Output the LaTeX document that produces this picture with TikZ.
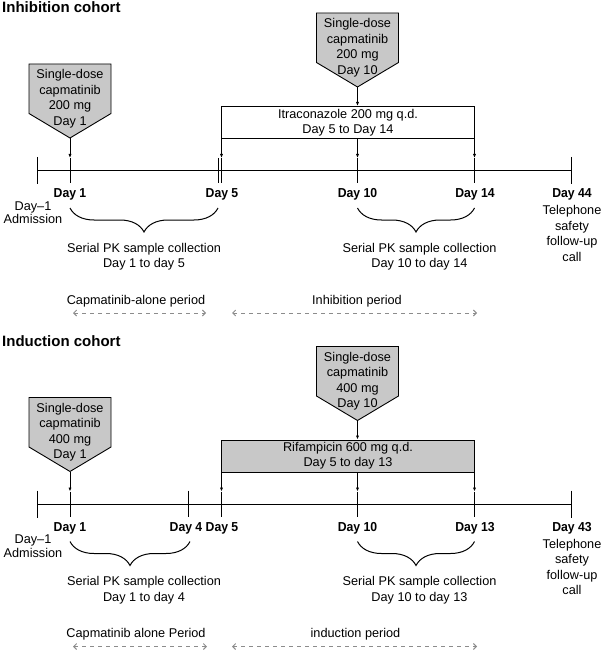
\documentclass[tikz,border=0pt]{standalone}
\usepackage{fontspec}
\setmainfont{Liberation Sans}
\newfontfamily\condfont[FakeStretch=0.94]{Liberation Sans}
\usetikzlibrary{arrows.meta,decorations.pathreplacing}
\definecolor{dosegray}{RGB}{200,200,200}
\definecolor{pergray}{RGB}{140,140,140}
\newcommand\dosebox[4]{%
  \path[dose] (#2-41,#3) -- (#2+41,#3) -- (#2+41,#3+49.5) -- (#2,#3+74) -- (#2-41,#3+49.5) -- cycle;
  \node[txt] (#1) at (#2,#3+34.5) {#4};
  \coordinate (#1tip) at (#2,#3+74);
}
\begin{document}
\begin{tikzpicture}[x=1pt,y=-1pt,
  txt/.style={font=\fontsize{12.7}{15.5}\selectfont, inner sep=0pt, align=center},
  daylbl/.style={font=\condfont\bfseries\fontsize{13}{15}\selectfont, inner sep=0pt, anchor=base},
  ttl/.style={font=\bfseries\fontsize{15}{18}\selectfont, inner sep=0pt, anchor=base west},
  dose/.style={draw, line width=0.9pt, fill=dosegray},
  ln/.style={line width=1pt},
  arr/.style={line width=1pt, -{Latex[length=4pt,width=3.2pt]}},
  period/.style={draw=pergray, line width=0.9pt, dash pattern=on 4pt off 4pt,
     {Straight Barb[length=3pt,width=6pt]}-{Straight Barb[length=3pt,width=6pt]}},
  brc/.style={decorate, decoration={brace, mirror, amplitude=24pt}, line width=1pt},
  drugbox/.style={txt, draw, line width=1pt, minimum width=253pt, minimum height=32pt, font=\fontsize{12.7}{15}\selectfont}
]
\useasboundingbox (0,0) rectangle (603,652);

% ================= Inhibition cohort =================
\node[ttl] (t1) at (2,13) {Inhibition cohort};
\coordinate (tl1L) at (37,171);
\coordinate (tl1R) at (571.5,171);
\draw[ln] (tl1L) -- (tl1R);
% ticks
\draw[ln] (37,157) -- (37,184);
\draw[ln] (70,158) -- (70,183);
\draw[ln] (218,158) -- (218,183);
\draw[ln] (221.5,158) -- (221.5,183);
\draw[ln] (357.5,158) -- (357.5,183);
\draw[ln] (474.5,158) -- (474.5,183);
\draw[ln] (571.5,157) -- (571.5,184);
\coordinate (ka1) at (70,158);
\coordinate (ka5) at (221.5,158);
\coordinate (ka10) at (357.5,158);
\coordinate (ka14) at (474.5,158);

\dosebox{pa1}{70}{64}{Single-dose\\capmatinib\\200 mg\\Day 1}
\dosebox{pa10}{357.5}{13}{Single-dose\\capmatinib\\200 mg\\Day 10}
\node[drugbox] (itra) at (348,122.5) {Itraconazole 200 mg q.d.\\Day 5 to Day 14};

\draw[arr] (pa1tip) -- (ka1);
\draw[arr] (pa10tip) -- (pa10tip |- itra.north);
\draw[arr] (ka5 |- itra.south) -- (ka5);
\draw[arr] (ka10 |- itra.south) -- (ka10);
\draw[arr] (ka14 |- itra.south) -- (ka14);

\node[daylbl] (da1) at (70,197.5) {Day 1};
\node[daylbl] (da5) at (222,197.5) {Day 5};
\node[daylbl] (da10) at (357.5,197.5) {Day 10};
\node[daylbl] (da14) at (475,197.5) {Day 14};
\node[daylbl] (da44) at (572,197.5) {Day 44};
\node[txt] (adm1) at (33,212.75) {Day–1\\[-2.2pt]Admission};
\node[txt] (tel1) at (572,233.6) {Telephone\\safety\\follow-up\\call};

\draw[brc] (70,208) -- (218,208);
\draw[brc] (357.5,208) -- (474.5,208);
\node[txt] (pk1a) at (144,256.5) {Serial PK sample collection\\Day 1 to  day 5};
\node[txt] (pk1b) at (419.5,256.5) {Serial PK sample collection\\Day 10 to  day 14};

\node[txt, anchor=base] (per1a) at (136,304) {Capmatinib-alone period};
\node[txt, anchor=base] (per1b) at (357,304) {Inhibition period};
\coordinate (pa1s) at (73,313); \coordinate (pa1e) at (206,313);
\coordinate (pb1s) at (232,313); \coordinate (pb1e) at (477,313);
\draw[period] (pa1s) -- (pa1e);
\draw[period] (pb1s) -- (pb1e);

% ================= Induction cohort =================
\begin{scope}[shift={(0,333.5)}]
\node[ttl] (t2) at (2,13) {Induction cohort};
\coordinate (tl2L) at (37,171);
\coordinate (tl2R) at (571.5,171);
\draw[ln] (tl2L) -- (tl2R);
\draw[ln] (37,157) -- (37,184);
\draw[ln] (70,158) -- (70,183);
\draw[ln] (188,157) -- (188,183);
\draw[ln] (221.5,158) -- (221.5,183);
\draw[ln] (357.5,158) -- (357.5,183);
\draw[ln] (474.5,158) -- (474.5,183);
\draw[ln] (571.5,157) -- (571.5,184);
\coordinate (kb1) at (70,158);
\coordinate (kb5) at (221.5,158);
\coordinate (kb10) at (357.5,158);
\coordinate (kb13) at (474.5,158);

\dosebox{pb1}{70}{64}{Single-dose\\capmatinib\\400 mg\\Day 1}
\dosebox{pb10}{357.5}{13}{Single-dose\\capmatinib\\400 mg\\Day 10}
\node[drugbox, fill=dosegray] (rifa) at (348,122.5) {Rifampicin 600 mg q.d.\\Day 5 to day 13};

\draw[arr] (pb1tip) -- (kb1);
\draw[arr] (pb10tip) -- (pb10tip |- rifa.north);
\draw[arr] (kb5 |- rifa.south) -- (kb5);
\draw[arr] (kb10 |- rifa.south) -- (kb10);
\draw[arr] (kb13 |- rifa.south) -- (kb13);

\node[daylbl] (db1) at (70,197.5) {Day 1};
\node[daylbl] (db4) at (186,197.5) {Day 4};
\node[daylbl] (db5) at (222,197.5) {Day 5};
\node[daylbl] (db10) at (357.5,197.5) {Day 10};
\node[daylbl] (db13) at (475,197.5) {Day 13};
\node[daylbl] (db43) at (572,197.5) {Day 43};
\node[txt] (adm2) at (33,212.75) {Day–1\\[-2.2pt]Admission};
\node[txt] (tel2) at (572,233.6) {Telephone\\safety\\follow-up\\call};

\draw[brc] (70,208) -- (190,208);
\draw[brc] (357.5,208) -- (474.5,208);
\node[txt] (pk2a) at (144,256.5) {Serial PK sample collection\\Day 1 to day 4};
\node[txt] (pk2b) at (419.5,256.5) {Serial PK sample collection\\Day 10 to day 13};

\node[txt, anchor=base] (per2a) at (136,304) {Capmatinib alone Period};
\node[txt, anchor=base] (per2b) at (355.5,304) {induction period};
\coordinate (pa2s) at (73,313); \coordinate (pa2e) at (207,313);
\coordinate (pb2s) at (232,313); \coordinate (pb2e) at (477,313);
\draw[period] (pa2s) -- (pa2e);
\draw[period] (pb2s) -- (pb2e);
\end{scope}
\end{tikzpicture}
\end{document}
